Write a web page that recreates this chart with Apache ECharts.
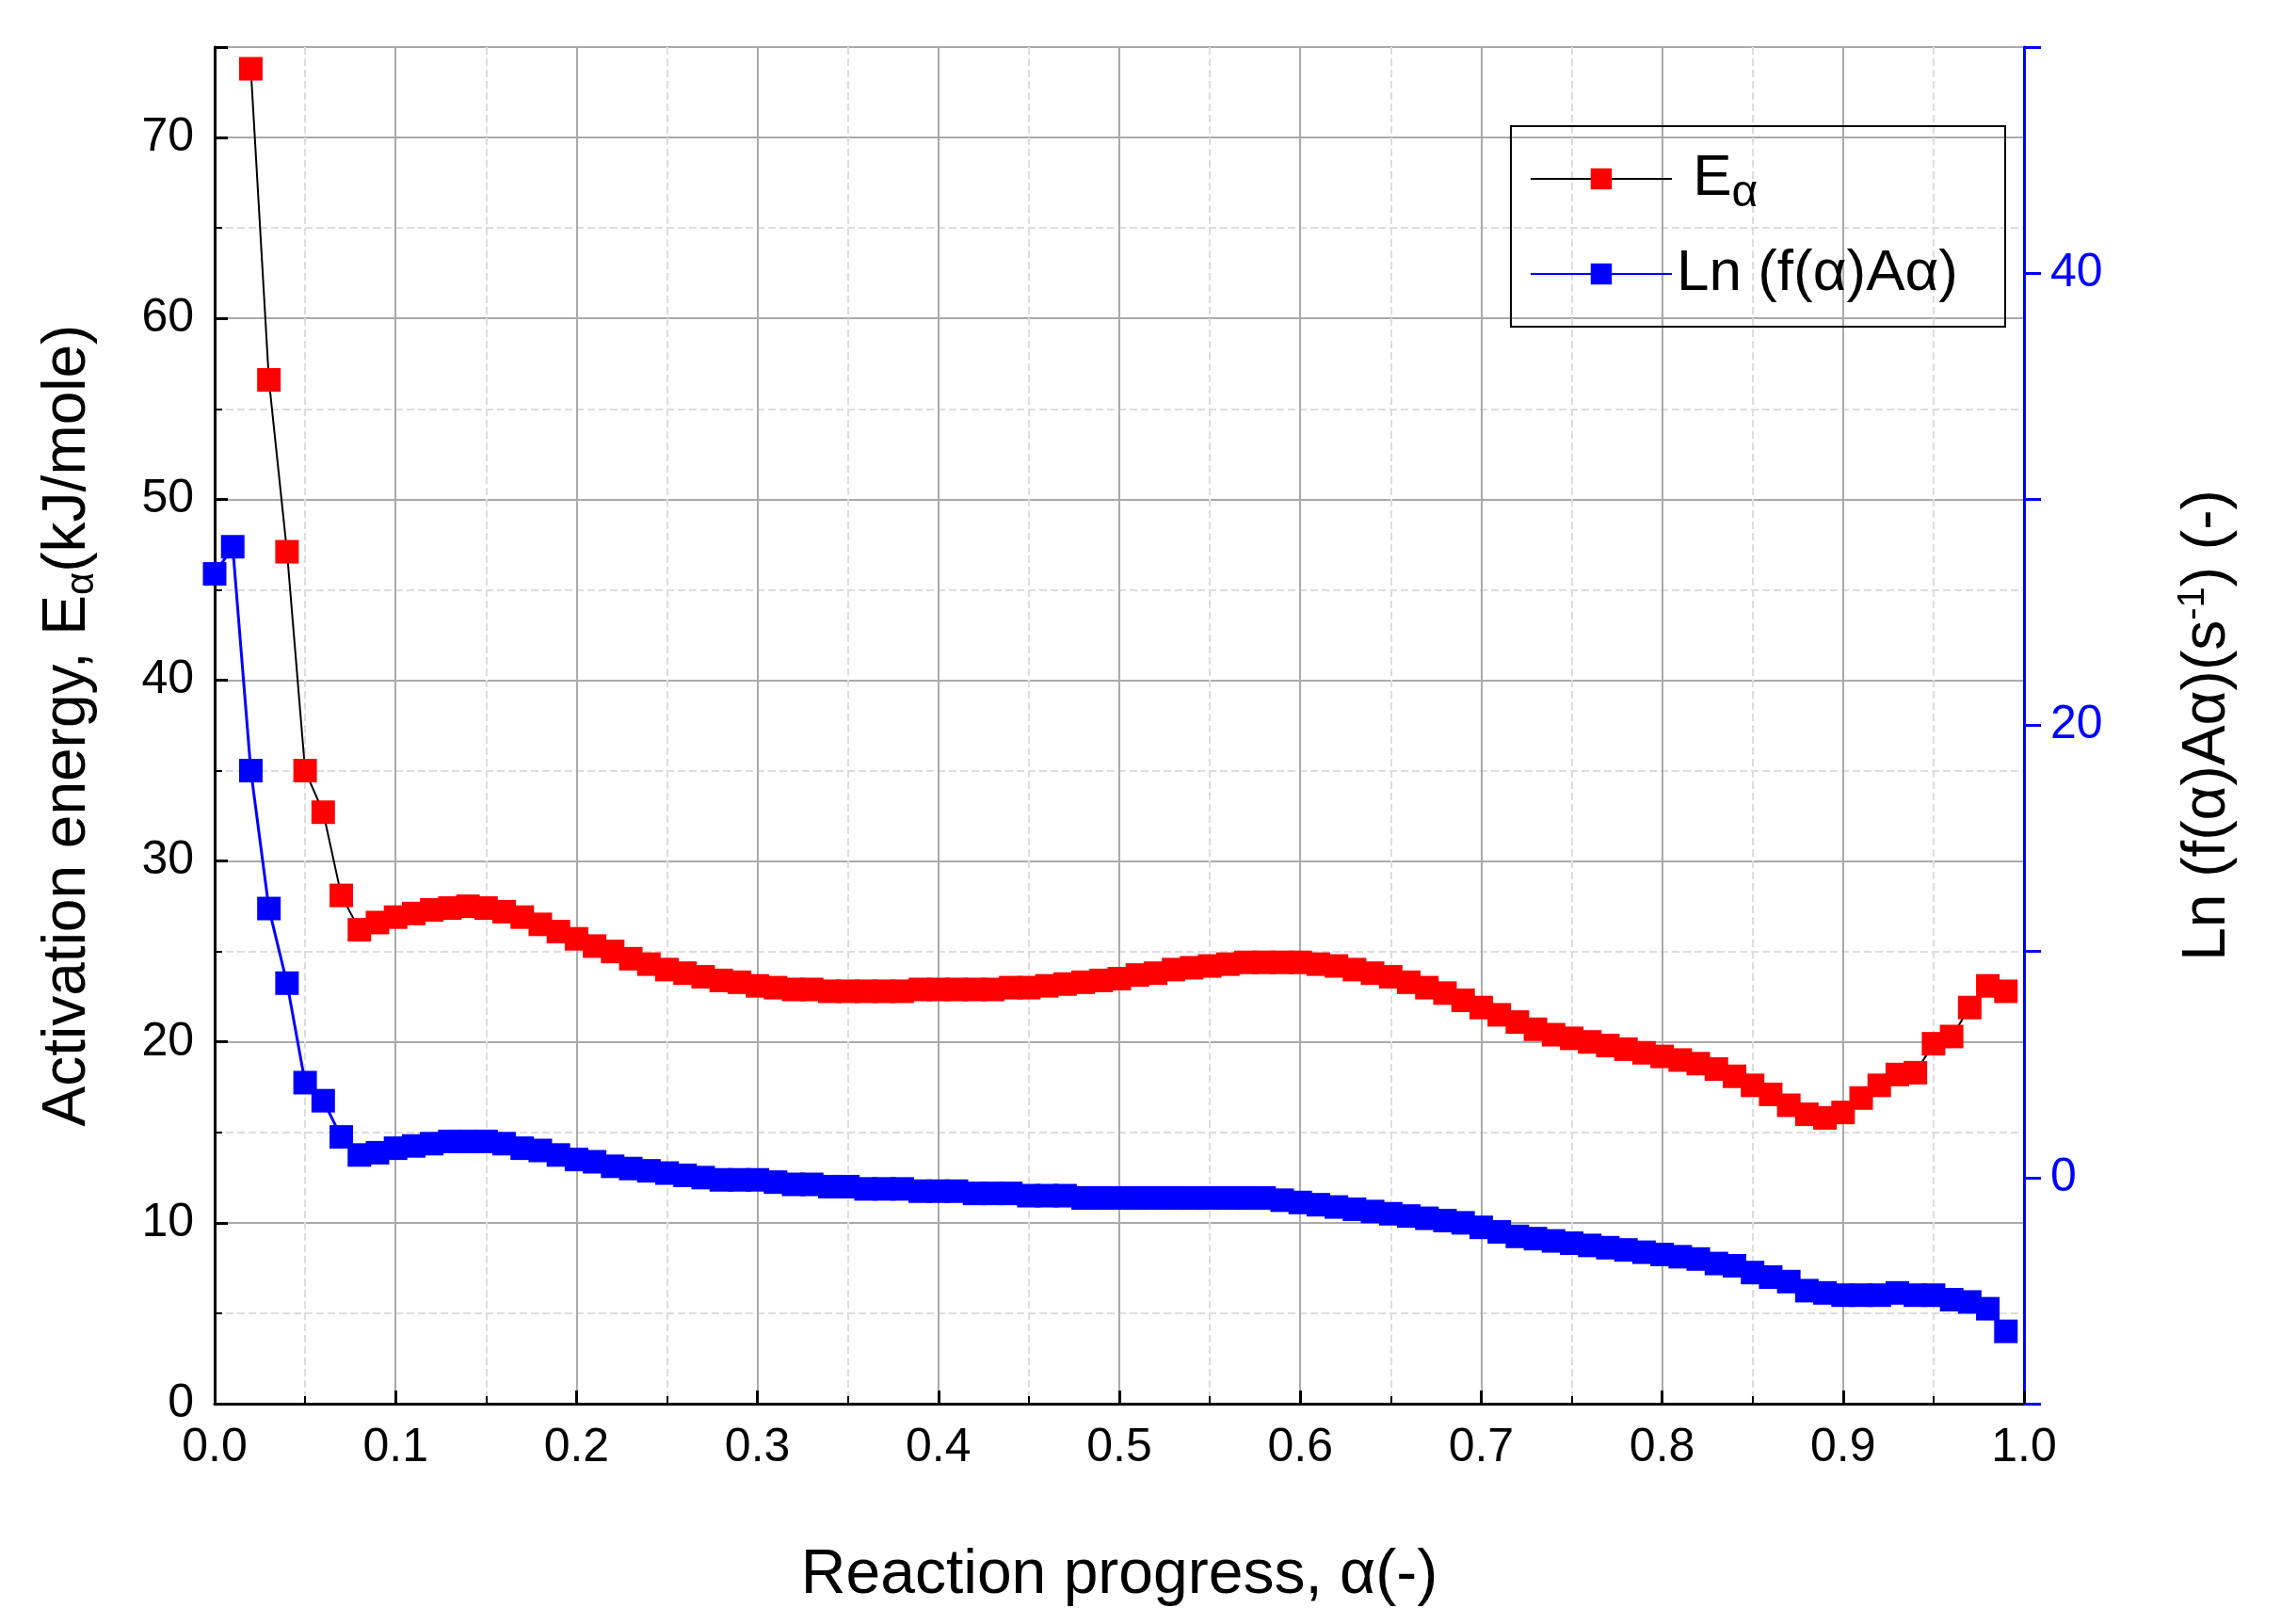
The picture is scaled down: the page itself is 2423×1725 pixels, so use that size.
<!DOCTYPE html>
<html><head><meta charset="utf-8">
<script src="https://cdn.jsdelivr.net/npm/echarts@6/dist/echarts.min.js"></script>
<style>html,body{margin:0;background:#fff}#c{width:2423px;height:1725px}</style>
</head><body><div id="c"></div>
<script>
const alphaE = [0.02,0.03,0.04,0.05,0.06,0.07,0.08,0.09,0.10,0.11,0.12,0.13,0.14,0.15,0.16,0.17,0.18,0.19,0.20,0.21,0.22,0.23,0.24,0.25,0.26,0.27,0.28,0.29,0.30,0.31,0.32,0.33,0.34,0.35,0.36,0.37,0.38,0.39,0.40,0.41,0.42,0.43,0.44,0.45,0.46,0.47,0.48,0.49,0.50,0.51,0.52,0.53,0.54,0.55,0.56,0.57,0.58,0.59,0.60,0.61,0.62,0.63,0.64,0.65,0.66,0.67,0.68,0.69,0.70,0.71,0.72,0.73,0.74,0.75,0.76,0.77,0.78,0.79,0.80,0.81,0.82,0.83,0.84,0.85,0.86,0.87,0.88,0.89,0.90,0.91,0.92,0.93,0.94,0.95,0.96,0.97,0.98,0.99];
const energy = [73.8,56.6,47.1,35.0,32.7,28.1,26.2,26.6,26.9,27.1,27.3,27.4,27.5,27.4,27.2,26.9,26.5,26.1,25.7,25.3,25.0,24.6,24.3,24.0,23.8,23.6,23.4,23.3,23.1,23.0,22.9,22.9,22.8,22.8,22.8,22.8,22.8,22.9,22.9,22.9,22.9,22.9,23.0,23.0,23.1,23.2,23.3,23.4,23.5,23.7,23.8,24.0,24.1,24.2,24.3,24.4,24.4,24.4,24.4,24.3,24.2,24.0,23.8,23.6,23.3,23.0,22.7,22.3,21.9,21.5,21.1,20.7,20.4,20.2,20.0,19.8,19.6,19.4,19.2,19.0,18.8,18.5,18.1,17.6,17.1,16.5,16.0,15.8,16.1,16.9,17.6,18.2,18.3,19.9,20.3,21.9,23.1,22.8];
const alphaL = [0.00,0.01,0.02,0.03,0.04,0.05,0.06,0.07,0.08,0.09,0.10,0.11,0.12,0.13,0.14,0.15,0.16,0.17,0.18,0.19,0.20,0.21,0.22,0.23,0.24,0.25,0.26,0.27,0.28,0.29,0.30,0.31,0.32,0.33,0.34,0.35,0.36,0.37,0.38,0.39,0.40,0.41,0.42,0.43,0.44,0.45,0.46,0.47,0.48,0.49,0.50,0.51,0.52,0.53,0.54,0.55,0.56,0.57,0.58,0.59,0.60,0.61,0.62,0.63,0.64,0.65,0.66,0.67,0.68,0.69,0.70,0.71,0.72,0.73,0.74,0.75,0.76,0.77,0.78,0.79,0.80,0.81,0.82,0.83,0.84,0.85,0.86,0.87,0.88,0.89,0.90,0.91,0.92,0.93,0.94,0.95,0.96,0.97,0.98,0.99];
const lnfA = [26.7,27.9,18.0,11.9,8.6,4.2,3.4,1.8,1.0,1.1,1.3,1.4,1.5,1.6,1.6,1.6,1.5,1.3,1.2,1.0,0.8,0.7,0.5,0.4,0.3,0.2,0.1,0.0,-0.1,-0.1,-0.1,-0.2,-0.3,-0.3,-0.4,-0.4,-0.5,-0.5,-0.5,-0.6,-0.6,-0.6,-0.7,-0.7,-0.7,-0.8,-0.8,-0.8,-0.9,-0.9,-0.9,-0.9,-0.9,-0.9,-0.9,-0.9,-0.9,-0.9,-0.9,-1.0,-1.1,-1.2,-1.3,-1.4,-1.5,-1.6,-1.7,-1.8,-1.9,-2.0,-2.2,-2.4,-2.6,-2.7,-2.8,-2.9,-3.0,-3.1,-3.2,-3.3,-3.4,-3.5,-3.6,-3.8,-3.9,-4.2,-4.4,-4.6,-5.0,-5.1,-5.2,-5.2,-5.2,-5.1,-5.2,-5.2,-5.4,-5.5,-5.8,-6.8];
const F = 'Arial, "Liberation Sans", sans-serif';
const chart = echarts.init(document.getElementById('c'));
chart.setOption({
  animation:false,
  grid:{left:228,right:250+23,top:50,bottom:234},
  legend:{right:273+20,top:134,orient:'vertical',itemWidth:150,itemHeight:28,itemGap:30,padding:[25,50,25,20],
    borderColor:'#000',borderWidth:2,textStyle:{fontFamily:F,fontSize:62,color:'#000',
      rich:{s:{fontFamily:F,fontSize:48,verticalAlign:'bottom',padding:[32,0,0,0]},n:{fontFamily:F,fontSize:62}}},
    formatter:n=>n==='E'?'{n| E}{s|α}':'{n|Ln (f(α)Aα)}',
    data:[{name:'E'},{name:'L'}]},
  xAxis:{type:'value',min:0,max:1,interval:0.1,
    axisLine:{lineStyle:{color:'#000',width:3}},axisTick:{inside:true,length:14,lineStyle:{width:3}},
    minorTick:{show:true,splitNumber:2,length:8,lineStyle:{color:'#000',width:2}},
    splitLine:{lineStyle:{color:'#aaa',width:2}},minorSplitLine:{show:true,lineStyle:{color:'#ddd',type:'dashed',width:2}},
    axisLabel:{fontFamily:F,fontSize:50,color:'#000',margin:22,formatter:v=>v.toFixed(1)},
    name:'Reaction progress, α(-)',nameLocation:'middle',nameGap:150,nameTextStyle:{fontFamily:F,fontSize:66,color:'#000'}},
  yAxis:[{type:'value',min:0,max:75,interval:10,
    axisLine:{show:true,lineStyle:{color:'#000',width:3}},axisTick:{show:true,inside:true,length:14,lineStyle:{width:3}},
    minorTick:{show:true,splitNumber:2,length:8,lineStyle:{color:'#000',width:2}},
    splitLine:{lineStyle:{color:'#aaa',width:2}},minorSplitLine:{show:true,lineStyle:{color:'#ddd',type:'dashed',width:2}},
    axisLabel:{fontFamily:F,fontSize:50,color:'#000',margin:22,formatter:v=>(v%10===0?String(v):'')},
    name:'{a|Activation energy, E}{s|α}{a|(kJ/mole)}',nameLocation:'middle',nameGap:120,
    nameTextStyle:{rich:{a:{fontFamily:F,fontSize:64,color:'#000'},s:{fontFamily:F,fontSize:42,color:'#000',verticalAlign:'bottom',padding:[30,0,0,0]}}}},
   {type:'value',min:-10,max:50,interval:10,position:'right',
    axisLine:{show:true,lineStyle:{color:'#0000ff',width:3}},axisTick:{show:true,inside:false,length:18,lineStyle:{width:3,color:'#0000ff'}},
    splitLine:{show:false},
    axisLabel:{fontFamily:F,fontSize:50,color:'#0000ff',margin:28,formatter:v=>(v%20===0?String(v):'')},
    name:'{a|Ln (f(α)Aα)(s}{p|-1}{a|) (-)}',nameLocation:'middle',nameGap:160,nameRotate:90,
    nameTextStyle:{rich:{a:{fontFamily:F,fontSize:64,color:'#000'},p:{fontFamily:F,fontSize:40,color:'#000',verticalAlign:'top',padding:[0,0,30,0]}}}}],
  series:[
    {name:'E',type:'line',yAxisIndex:0,data:alphaE.map((a,i)=>[a,energy[i]]),symbol:'rect',symbolSize:25,
     itemStyle:{color:'#ff0000'},lineStyle:{color:'#000',width:2}},
    {name:'L',type:'line',yAxisIndex:1,data:alphaL.map((a,i)=>[a,lnfA[i]]),symbol:'rect',symbolSize:25,
     itemStyle:{color:'#0000ff'},lineStyle:{color:'#0000ff',width:3}}
  ]
});
</script></body></html>
